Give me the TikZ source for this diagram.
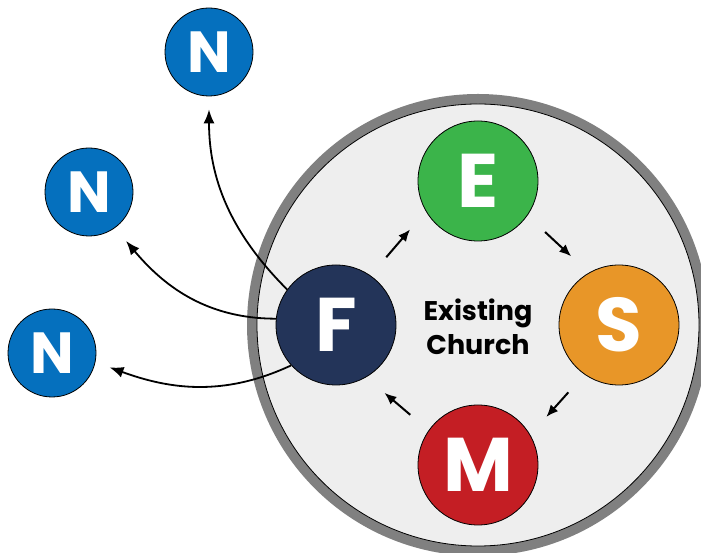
\documentclass[tikz,border=0pt]{standalone}
\usepackage{fontspec}
\setmainfont{Poppins}
\usepackage{tikz}
\usetikzlibrary{arrows.meta, positioning}
\definecolor{eGreen}{RGB}{59,180,74}
\definecolor{sOrange}{RGB}{232,150,40}
\definecolor{mRed}{RGB}{196,30,36}
\definecolor{fNavy}{RGB}{35,52,89}
\definecolor{nBlue}{RGB}{5,112,190}
\definecolor{ringGray}{RGB}{128,128,128}
\definecolor{churchFill}{RGB}{238,238,238}

\begin{document}
\begin{tikzpicture}[x=1pt,y=1pt,
    stage/.style={circle, draw=black, line width=0.8pt, minimum size=120pt, inner sep=0pt,
      text=white, font=\fontsize{76}{76}\selectfont\bfseries},
    newc/.style={circle, draw=black, line width=0.8pt, fill=nBlue, minimum size=88pt, inner sep=0pt,
      text=white, font=\fontsize{58}{58}\selectfont\bfseries},
    cyc/.style={-{Latex[length=12pt,width=10pt]}, line width=2pt, shorten <=24pt, shorten >=24pt},
    send/.style={-{Latex[length=14pt,width=11pt]}, line width=1.8pt}]

            \useasboundingbox (0,0) rectangle (701,553);
            \clip (0,0) rectangle (701,553);

            % The existing church
            \fill[ringGray] (478,228) circle (231);
            \draw[fill=churchFill, line width=0.8pt] (478,228) circle (221);
            \node[align=center, font=\fontsize{27}{34}\selectfont\bfseries] (church) at (478,226) {Existing\\Church};

            % The four stages
            \node[stage, fill=eGreen] (E) at (478,372) {E};
            \node[stage, fill=sOrange] (S) at (619,228) {S};
            \node[stage, fill=mRed] (M) at (478,88) {M};
            \node[stage, fill=fNavy] (F) at (336,228) {F};

            % The new ones outside
            \node[newc] (N1) at (209,501) {N};
            \node[newc] (N2) at (89,361) {N};
            \node[newc] (N3) at (52,200) {N};

            % Cycle inside the church
            \draw[cyc] (F.55) -- (E.210);
            \draw[cyc] (E.-35) -- (S.120);
            \draw[cyc] (S.-125) -- (M.30);
            \draw[cyc] (M.145) -- (F.-60);

            % Sending out
            \draw[send, shorten >=13pt] (F.144) to[out=135,in=-90] (N1.south);
            \draw[send, shorten >=17pt] (F.174) to[out=180,in=-50] (N2.-54);
            \draw[send, shorten >=15pt] (F.-138) to[out=205,in=-20] (N3.-12);
\end{tikzpicture}
\end{document}
